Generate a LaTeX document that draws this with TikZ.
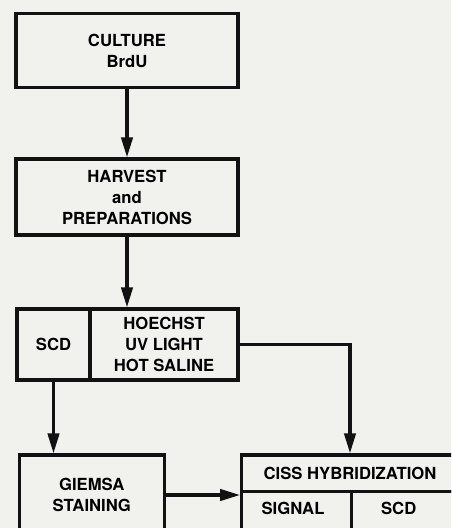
\documentclass[tikz,border=0pt]{standalone}
\usepackage{fontspec}
\setmainfont{TeX Gyre Heros}
\usetikzlibrary{arrows.meta}
\definecolor{scanbg}{RGB}{241,241,238}
\definecolor{ink}{RGB}{18,18,18}
\tikzset{every picture/.style={line width=2.4pt}}
\tikzset{
  cellsize/.style 2 args={minimum width=#1*0.75pt,minimum height=#2*0.75pt},
  flowbox/.style={draw=ink,inner sep=0pt,align=center,font=\bfseries\fontsize{12.5}{15.75}\selectfont},
  celltext/.style={inner sep=0pt,font=\bfseries\fontsize{12.5}{15.75}\selectfont},
  flowarrow/.style={draw=ink,-{Triangle[length=15pt,width=8.5pt]}}
}
\begin{document}
\begin{tikzpicture}[x=0.75pt,y=0.75pt,yscale=-1,xscale=1]
\useasboundingbox (0,0) rectangle (451,528);
\fill[scanbg] (0,0) rectangle (451,528);
\clip (0,0) rectangle (451,528);

%Boxes
\node[flowbox,cellsize={222}{74}] (culture) at (127,50.5) {CULTURE\\BrdU};
\node[flowbox,cellsize={222}{76}] (harvest) at (127,197) {HARVEST\\and\\PREPARATIONS};
\node[flowbox,cellsize={73}{71}] (scd) at (53.5,344.5) {SCD};
\node[flowbox,cellsize={148}{71}] (hoechst) at (164,344.5) {HOECHST\\UV LIGHT\\HOT SALINE};
\node[flowbox,cellsize={145}{80}] (giemsa) at (91.8,495) {GIEMSA\\STAINING};
\node[flowbox,cellsize={216.6}{36.7}] (ciss) at (350,473.3) {CISS HYBRIDIZATION};
\node[flowbox,cellsize={110}{60}] (signal) at (296.7,521.7) {};
\node[flowbox,cellsize={110}{60}] (scdcell) at (406.7,521.7) {};

% Text Node
\node[celltext] (signaltext) at (293,508) {SIGNAL};
% Text Node
\node[celltext] (scdtext) at (398.7,508) {SCD};

%Straight Lines
\draw[flowarrow] (culture) -- (harvest);
\draw[flowarrow] (harvest.south) -- (harvest.south |- hoechst.north);
\draw[flowarrow] (scd.south) -- (scd.south |- giemsa.north);
\draw[flowarrow] (hoechst.east) -| (ciss.north);
\draw[flowarrow] (giemsa.east) -- (giemsa.east -| signal.west);

\end{tikzpicture}
\end{document}
